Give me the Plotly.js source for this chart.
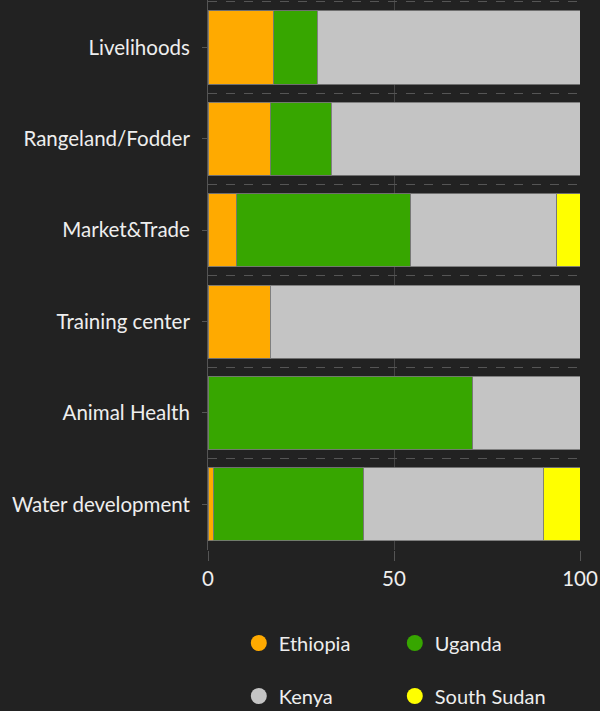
<!DOCTYPE html>
<html>
<head>
<meta charset="utf-8">
<script src="https://cdn.plot.ly/plotly-3.0.1.min.js"></script>
<style>html,body{margin:0;padding:0;background:#222222;}#chart{width:600px;height:711px;}</style>
</head>
<body>
<div id="chart"></div>
<script>
const categories = ['Livelihoods', 'Rangeland/Fodder', 'Market&Trade', 'Training center', 'Animal Health', 'Water development'];
const ethiopia   = [17.5, 16.7, 7.6, 16.7, 0, 1.4];
const uganda     = [11.9, 16.4, 46.9, 0, 71.2, 40.4];
const kenya      = [70.6, 66.9, 39.3, 83.3, 28.8, 48.3];
const southSudan = [0, 0, 6.2, 0, 0, 9.9];
const seriesNames = ['Ethiopia', 'Uganda', 'Kenya', 'South Sudan'];
const xTicks = [0, 50, 100];

const colors = ['#FFAA00', '#37A600', '#C4C4C4', '#FFFF00'];
const seriesValues = [ethiopia, uganda, kenya, southSudan];
const FONT = 'Lato, "DejaVu Sans Condensed", sans-serif';
const TXT = '#EEEEEE';
const FS = 20.5;

const traces = [];
seriesValues.forEach((vals, i) => {
  traces.push({
    type: 'bar', orientation: 'h',
    x: vals, y: categories, name: seriesNames[i],
    marker: {color: colors[i], line: {color: 'rgba(120,120,120,0.9)', width: 1}},
    showlegend: false, hoverinfo: 'x+y+name'
  });
});
seriesValues.forEach((vals, i) => {
  traces.push({
    type: 'scatter', mode: 'markers',
    x: [null], y: [null], yaxis: 'y2', name: seriesNames[i],
    marker: {color: colors[i], size: 16, symbol: 'circle'},
    showlegend: true,
    legend: i < 2 ? 'legend' : 'legend2'
  });
});

const catIdx = categories.map((c, i) => i);
const legendBase = {
  orientation: 'h', xref: 'container', yref: 'container',
  xanchor: 'left', yanchor: 'middle', x: 0.398, traceorder: 'normal',
  entrywidth: 111, entrywidthmode: 'pixels',
  bgcolor: 'rgba(0,0,0,0)', font: {family: FONT, size: 20, color: TXT},
  itemclick: false, itemdoubleclick: false
};

const layout = {
  width: 600, height: 711,
  paper_bgcolor: '#222222', plot_bgcolor: '#222222',
  barmode: 'stack', bargap: 0.2,
  margin: {l: 208, r: 20, t: 0, b: 161},
  font: {family: FONT, size: FS, color: TXT},
  xaxis: {
    range: [0, 100], tickvals: xTicks, ticktext: xTicks.map(String),
    showgrid: true, gridcolor: '#454545', gridwidth: 1,
    zeroline: false, showline: false,
    ticks: 'outside', ticklen: 10, tickcolor: '#555555',
    tickfont: {family: FONT, size: FS, color: TXT},
    fixedrange: true
  },
  yaxis: {
    type: 'category', categoryorder: 'array', categoryarray: categories,
    range: [5.5, -0.52], tickson: 'boundaries',
    showgrid: true, gridcolor: '#555555', griddash: 'dash', gridwidth: 1,
    ticks: '', showline: true, linecolor: '#555555', linewidth: 1,
    zeroline: false, ticklabelstandoff: 13,
    tickfont: {family: FONT, size: FS, color: TXT},
    fixedrange: true
  },
  yaxis2: {
    overlaying: 'y', side: 'left', anchor: 'x',
    range: [5.5, -0.52], tickmode: 'array', tickvals: catIdx,
    showticklabels: false, ticks: 'outside', ticklen: 5, tickcolor: '#555555',
    showgrid: false, zeroline: false, showline: false, fixedrange: true
  },
  legend: Object.assign({}, legendBase, {y: 1 - 643 / 711}),
  legend2: Object.assign({}, legendBase, {y: 1 - 696 / 711}),
  showlegend: true
};

Plotly.newPlot('chart', traces, layout, {displayModeBar: false});
</script>
</body>
</html>
